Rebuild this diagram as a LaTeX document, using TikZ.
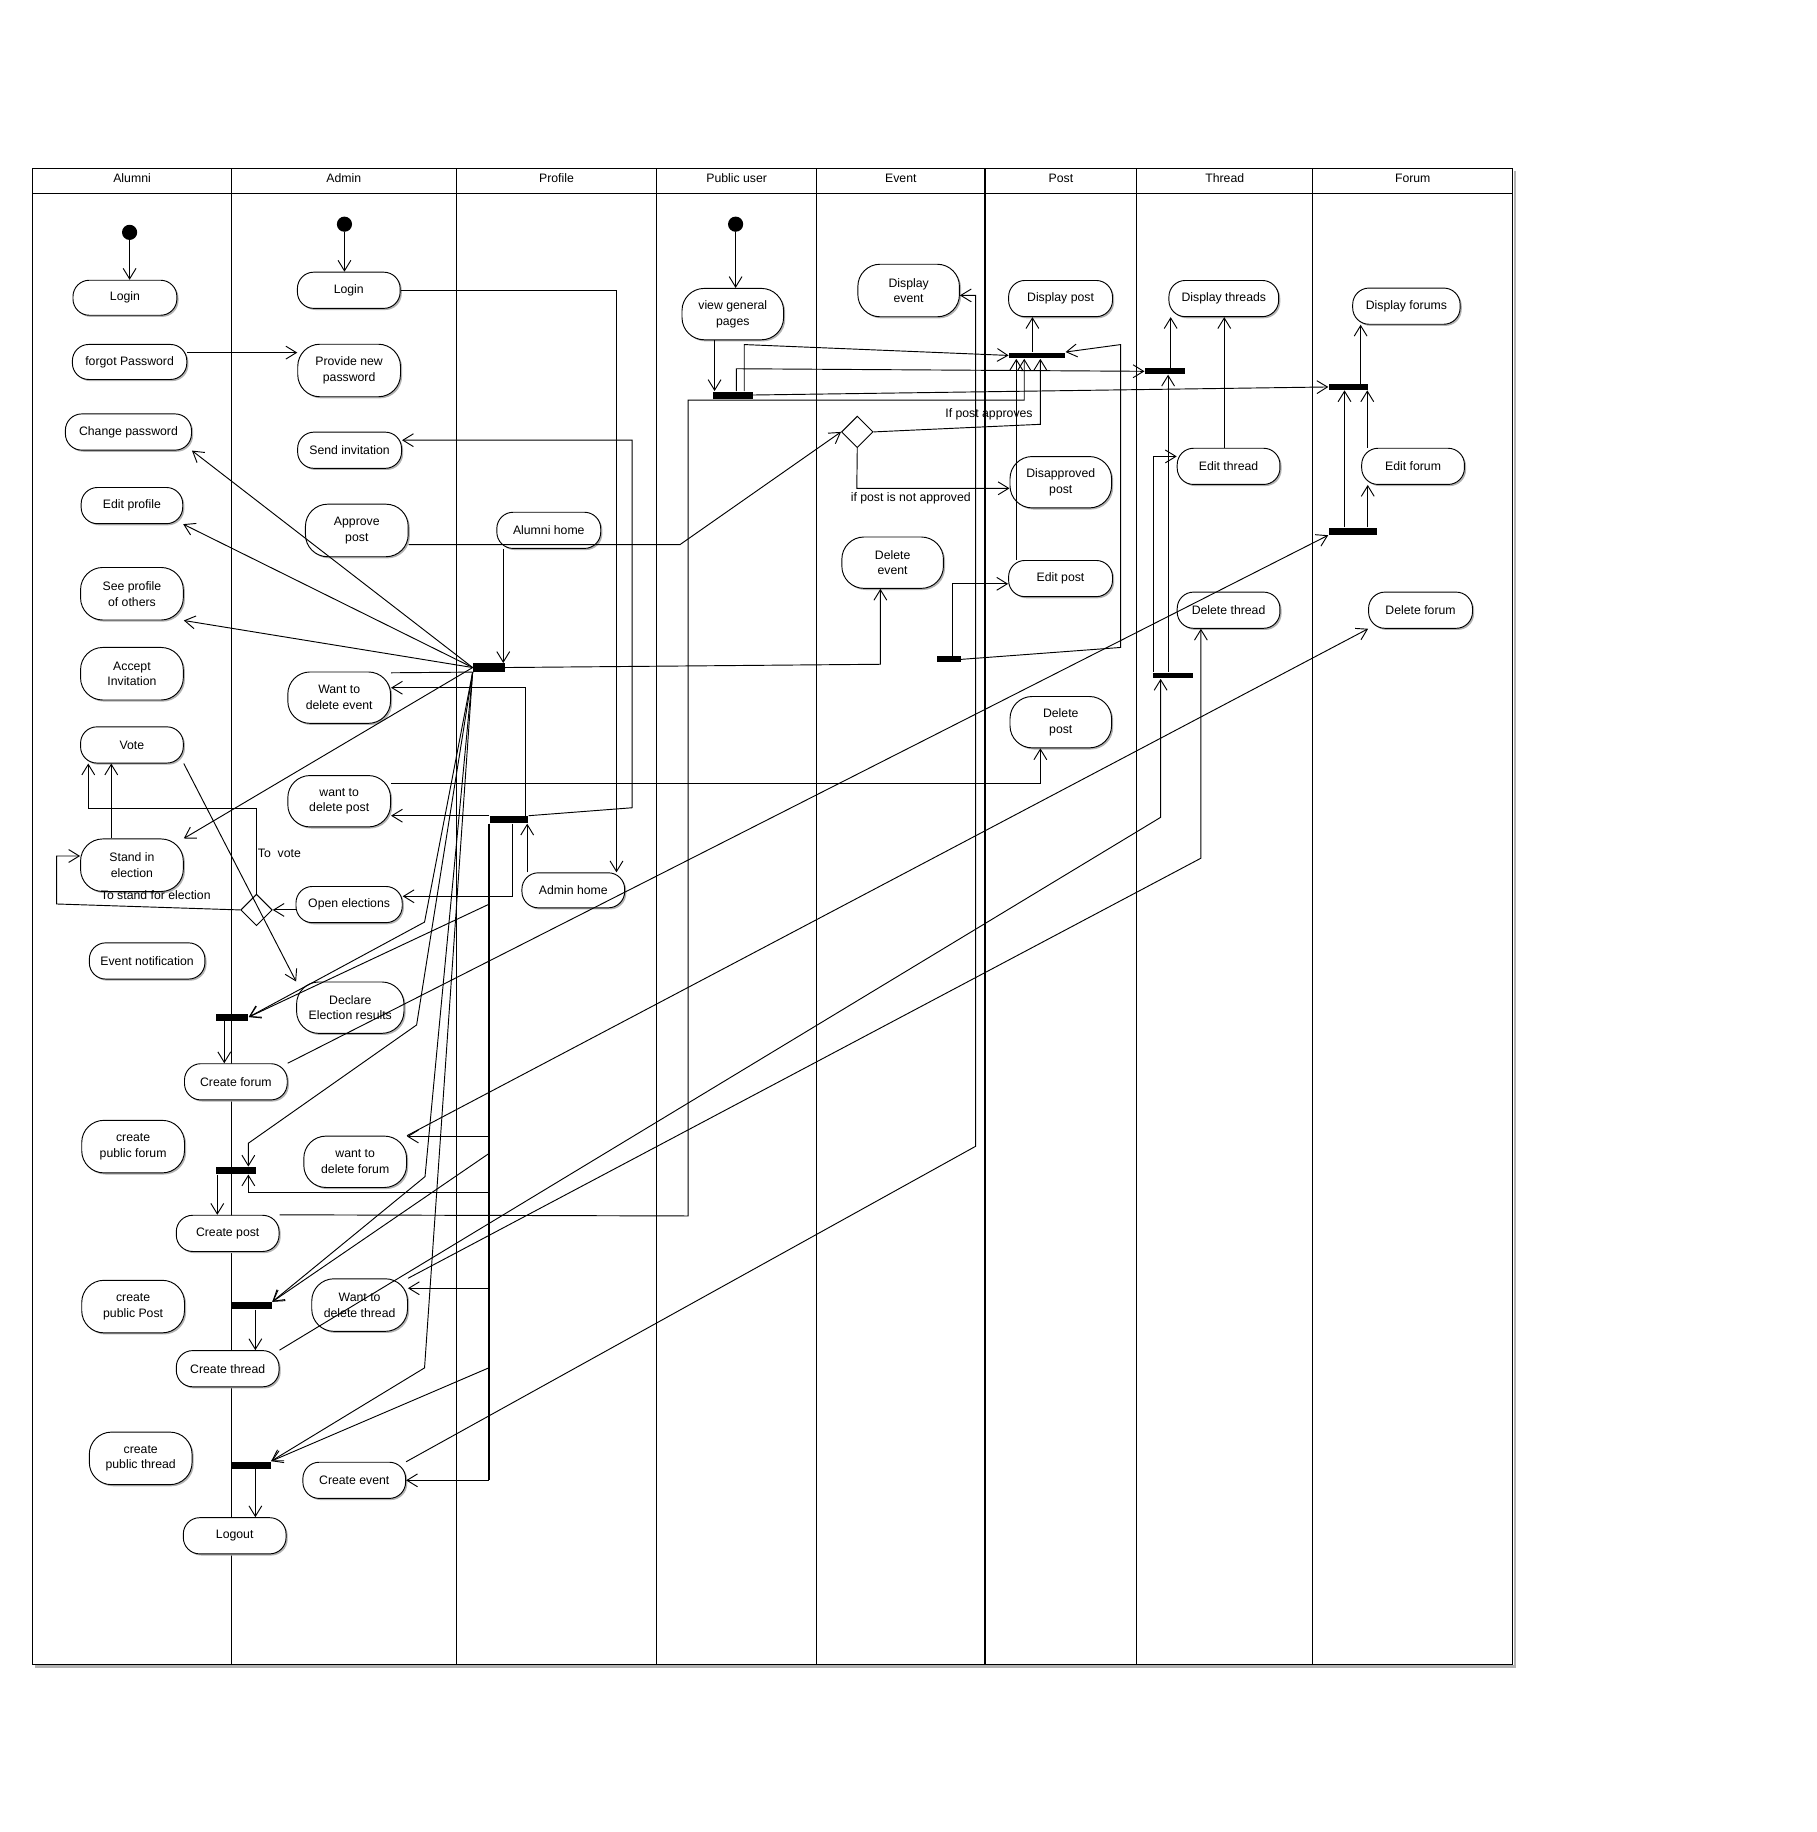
\documentclass[tikz,border=0pt]{standalone}
\usepackage{fontspec}
\setmainfont{Liberation Sans}
\usetikzlibrary{arrows.meta,shapes.geometric,shadows}
\newcommand\actfont{\fontsize{10.5}{13.5}\selectfont}
\begin{document}
\begin{tikzpicture}[x=1pt,y=-1pt,
  line width=0.8pt,
  >={Straight Barb[length=9pt,width=11pt]},
  act/.style={draw, fill=white, rounded corners=14pt, inner sep=0pt, align=center, font=\actfont,
    drop shadow={shadow xshift=1.4pt, shadow yshift=-1.4pt, fill=black!30, opacity=1}},
  acttall/.style={act, rounded corners=19pt},
  forkbar/.style={fill=black, draw=none, inner sep=0pt, minimum height=6pt},
  startdot/.style={circle, fill=black, inner sep=0pt, minimum size=13pt},
  decision/.style={diamond, draw, fill=white, inner sep=0pt, minimum width=27pt, minimum height=27pt},
  lbl/.style={font=\actfont, inner sep=0pt},
  head/.style={font=\actfont, inner sep=0pt, anchor=base},
  flow/.style={->}]
\useasboundingbox (0,0) rectangle (1556,1569);

% swimlanes
\draw[black!30, line width=2pt] (1297.3,146.3) -- (1297.3,1427.1) -- (29.9,1427.1);
\draw[line width=1.1pt, fill=white] (27.9,144.3) rectangle (1295.5,1425.3);
\draw[line width=1.1pt] (27.9,165.7) -- (1295.5,165.7);
\foreach \x in {198.3,390.7,562.5,699.3,843.7,973.5,1124.3}
  \draw[line width=1.1pt] (\x,144.3) -- (\x,1425.3);
\node[head] (hAlumni) at (113.1,156.5) {Alumni};
\node[head] (hAdmin) at (294.5,156.5) {Admin};
\node[head] (hProfile) at (476.6,156.5) {Profile};
\node[head] (hPublic) at (630.9,156.5) {Public user};
\node[head] (hEvent) at (771.5,156.5) {Event};
\node[head] (hPost) at (908.6,156.5) {Post};
\node[head] (hThread) at (1048.9,156.5) {Thread};
\node[head] (hForum) at (1209.9,156.5) {Forum};

% Alumni
\node[startdot] (s1) at (111,199) {};
\node[act, minimum width=89pt, minimum height=30pt] (aLogin) at (107,255) {Login};
\node[act, minimum width=98pt, minimum height=30pt] (aForgot) at (111,310) {forgot Password};
\node[act, minimum width=108pt, minimum height=31pt] (aChange) at (110,370) {Change password};
\node[act, minimum width=87pt, minimum height=31pt] (aEdit) at (113,433) {Edit profile};
\node[acttall, minimum width=88pt, minimum height=45pt] (aSee) at (113,508.5) {See profile\\of others};
\node[acttall, minimum width=88pt, minimum height=45pt] (aAccept) at (113,577) {Accept\\Invitation};
\node[act, minimum width=88pt, minimum height=31pt] (aVote) at (113,638) {Vote};
\node[acttall, minimum width=88pt, minimum height=45pt] (aStand) at (113,741) {Stand in\\election};
\node[act, minimum width=99pt, minimum height=31pt] (aEvent) at (126,823) {Event notification};
\node[acttall, minimum width=88pt, minimum height=45pt] (aCpf) at (114,982) {create\\public forum};
\node[acttall, minimum width=88pt, minimum height=45pt] (aCpp) at (114,1119) {create\\public Post};
\node[acttall, minimum width=88pt, minimum height=45pt] (aCpt) at (120.5,1249) {create\\public thread};

% Admin
\node[startdot] (s2) at (295,192) {};
\node[act, minimum width=88pt, minimum height=31pt] (bLogin) at (298.7,248.6) {Login};
\node[acttall, minimum width=88pt, minimum height=45pt] (bProvide) at (299,317.3) {Provide new\\password};
\node[act, minimum width=89pt, minimum height=31pt] (bSend) at (299.4,385.6) {Send invitation};
\node[acttall, minimum width=88pt, minimum height=45pt] (bApprove) at (305.6,454.3) {Approve\\post};
\node[acttall, minimum width=88pt, minimum height=44pt] (bWde) at (290.5,597.5) {Want to\\delete event};
\node[acttall, minimum width=88pt, minimum height=44pt] (bWdp) at (290.5,686.2) {want to\\delete post};
\node[act, minimum width=91pt, minimum height=31pt] (bOpen) at (299,774.7) {Open elections};
\node[acttall, minimum width=92pt, minimum height=44pt] (bDeclare) at (300,863) {Declare\\Election results};
\node[act, minimum width=88pt, minimum height=31pt] (bCforum) at (202,926.5) {Create forum};
\node[acttall, minimum width=88pt, minimum height=44pt] (bWdf) at (304.2,995) {want to\\delete forum};
\node[act, minimum width=88pt, minimum height=31pt] (bCpost) at (195,1056.3) {Create post};
\node[acttall, minimum width=82pt, minimum height=45pt] (bWdt) at (308,1117.7) {Want to\\delete thread};
\node[act, minimum width=88pt, minimum height=31pt] (bCthread) at (195,1172.2) {Create thread};
\node[act, minimum width=88pt, minimum height=31pt] (bCevent) at (303.4,1267.8) {Create event};
\node[act, minimum width=88pt, minimum height=31pt] (bLogout) at (201,1315.3) {Logout};
\node[decision] (dv) at (219.7,779.3) {};
\node[forkbar, minimum width=28pt] (barCF) at (198.7,871) {};
\node[forkbar, minimum width=34pt] (barCP) at (202,1002.5) {};
\node[forkbar, minimum width=34pt] (barCT) at (215.8,1118.3) {};
\node[forkbar, minimum width=34pt] (barLO) at (214.8,1254.8) {};

% Profile
\node[act, minimum width=89pt, minimum height=31pt] (pAlumni) at (470,454.2) {Alumni home};
\node[act, minimum width=88pt, minimum height=30pt] (pAdmin) at (491,762.5) {Admin home};
\node[forkbar, minimum width=27pt, minimum height=7pt] (F1) at (418.7,571.7) {};
\node[forkbar, minimum width=33pt] (F2) at (435.8,702) {};

% Public user
\node[startdot] (s3) at (630,192) {};
\node[acttall, minimum width=87pt, minimum height=44pt] (uView) at (627.6,269) {view general\\pages};
\node[forkbar, minimum width=34pt] (pBar) at (627.6,338.3) {};

% Event
\node[acttall, minimum width=87pt, minimum height=45pt] (eDisplay) at (778.2,248.8) {Display\\event};
\node[decision] (d2) at (734.2,369.9) {};
\node[acttall, minimum width=87pt, minimum height=44pt] (eDelete) at (764.5,481.9) {Delete\\event};
\node[forkbar, minimum width=20pt, minimum height=5pt] (eBar) at (812.8,564.7) {};

% Post
\node[act, minimum width=89pt, minimum height=31pt] (oDisplay) at (908.3,255.7) {Display post};
\node[forkbar, minimum width=48pt, minimum height=5pt] (oBar) at (888.2,304.4) {};
\node[acttall, minimum width=87pt, minimum height=44pt] (oDisapp) at (908.5,413) {Disapproved\\post};
\node[act, minimum width=89pt, minimum height=31pt] (oEdit) at (908.3,495.5) {Edit post};
\node[acttall, minimum width=87pt, minimum height=44pt] (oDelete) at (908.5,618.5) {Delete\\post};

% Thread
\node[act, minimum width=94pt, minimum height=31pt] (tDisplay) at (1048.1,255.7) {Display threads};
\node[forkbar, minimum width=34pt, minimum height=5pt] (T1) at (997.6,318) {};
\node[act, minimum width=88pt, minimum height=31pt] (tEdit) at (1052.2,399.4) {Edit thread};
\node[act, minimum width=88pt, minimum height=31pt] (tDelete) at (1052.2,522.6) {Delete thread};
\node[forkbar, minimum width=34pt, minimum height=5pt] (T2) at (1004.4,578.5) {};

% Forum
\node[act, minimum width=92pt, minimum height=31pt] (fDisplay) at (1204.5,262.2) {Display forums};
\node[forkbar, minimum width=34pt, minimum height=5pt] (FB1) at (1155,331.4) {};
\node[act, minimum width=88pt, minimum height=31pt] (fEdit) at (1210.2,399.4) {Edit forum};
\node[forkbar, minimum width=41pt, minimum height=6pt] (FB2) at (1158.4,455) {};
\node[act, minimum width=89pt, minimum height=31pt] (fDelete) at (1216.6,522.6) {Delete forum};

% labels
\node[lbl] (lApp) at (847,355) {If post approves};
\node[lbl] (lNot) at (780,427) {if post is not approved};
\node[lbl, anchor=west] (lVote) at (220.5,731) {To\ \ vote};
\node[lbl] (lStand) at (133.4,767) {To stand for election};

% connectors
\draw[flow] (s1) -- (s1 |- aLogin.north);
\draw[flow] (s2) -- (s2 |- bLogin.north);
\draw[flow] (s3) -- (s3 |- uView.north);
\draw[flow] (aForgot.east |- 0,302) -- (bProvide.west |- 0,302);
\draw[flow] (bLogin.east) -| (pAdmin.north -| 528,0);
\draw[flow] (F2.north east) -- (541.3,691.8) -- (541.3,377) -- (bSend.east |- 0,377);
\draw[flow] (pAdmin.north -| 451.5,0) -- (F2.south -| 451.5,0);
\draw[flow] (F2.north -| 450.3,0) -- (450.3,589) -- (bWde.east |- 0,589);
\draw[flow] (F2.north west) -- (bWdp.east |- F2.north west);
\draw[flow] (F2.south -| 438.6,0) -- (438.6,767.6) -- (bOpen.east |- 0,767.6);

% admin trunk
\coordinate (k1) at (418.6,774.5);
\coordinate (k2) at (418.6,973.3);
\coordinate (k3) at (418.6,988);
\coordinate (k4) at (418.6,1021);
\coordinate (k5) at (418.6,1103.3);
\coordinate (k6) at (418.6,1171.5);
\coordinate (k7) at (418.6,1267.8);
\draw[line width=1.5pt] (F2.south -| 418.6,0) -- (k7);
\draw[flow] (k7) -- (bCevent.east);
\draw[flow] (k1) -- (barCF.east);
\draw[flow] (k2) -- (bWdf.east |- k2);
\draw[flow] (k3) -- (barCT.north east);
\draw[flow] (k4) -- (212.7,1021) -- (barCP.south -| 212.7,0);
\draw[flow] (k5) -- (bWdt.east |- k5);
\draw[flow] (k6) -- (barLO.north east);

% F1 fan
\draw[flow] (F1.west) -- (aChange.south east);
\draw[flow] (F1.west) -- (aEdit.south east);
\draw[flow] (F1.west) -- (aSee.south east);
\draw[flow] (F1.west) -- (aStand.north east);
\draw (bWde.east |- 0,576.2) -- (F1.south west);
\draw[flow] (pAlumni.south -| 431,0) -- (F1.north -| 431,0);
\draw[flow] (F1.east) -- (754,568.9) -- (eDelete.south -| 754,0);
\draw[flow] (F1.south west) -- (363.6,789.7) -- (barCF.east);
\draw[flow] (F1.south west) -- (356.8,877.8) -- (212.7,979.1) -- (barCP.north -| 212.7,0);
\draw[flow] (F1.south west) -- (364,1007.7) -- (barCT.north east);
\draw[flow] (F1.south west) -- (363.6,1171.5) -- (barLO.north east);

% post / event
\draw[flow] (bApprove.east |- 0,466.4) -- (582.4,466.4) -- (d2.west);
\draw[flow] (d2.east) -- (891,363.4) -- (oBar.south -| 891,0);
\draw[flow] (d2.south) -- (733.8,418.2) -- (oDisapp.west |- 0,418.2);
\draw[flow] (oEdit.north -| 870.4,0) -- (oBar.south -| 870.4,0);
\draw[flow] (eBar.north -| 815.7,0) -- (815.7,500) -- (oEdit.west |- 0,500);
\draw[flow] (eBar.east) -- (959.8,554.5) -- (959.8,295.1) -- (oBar.north east);
\draw[flow] (uView.south -| 612,0) -- (pBar.north -| 612,0);
\draw[flow] (pBar.north -| 637.4,0) -- (637.4,295.1) -- (oBar.west);
\draw[flow] (pBar.north -| 630.6,0) -- (630.6,315.8) -- (T1.west);
\draw[flow] (pBar.east) -- (FB1.west);
\draw[flow] (bCpost.north east) -- (589.4,1041.4) -- (589.4,342.6) -- (877.2,342.6) -- (oBar.south -| 877.2,0);
\draw[flow] (oBar.north -| 884.2,0) -- (oDisplay.south -| 884.2,0);
\draw[flow] (bCevent.north east) -- (835.6,981.7) -- (835.6,253) -- (eDisplay.east |- 0,253);
\draw[flow] (bWdp.east |- 0,671) -- (891,671) -- (oDelete.south -| 891,0);

% thread / forum
\draw[flow] (T1.north -| 1002.6,0) -- (tDisplay.south -| 1002.6,0);
\draw[flow] (tEdit.north -| 1048.5,0) -- (tDisplay.south -| 1048.5,0);
\draw[flow] (T2.north -| 1000.4,0) -- (T1.south -| 1000.4,0);
\draw[flow] (T2.north -| 988,0) -- (988,390.9) -- (tEdit.west |- 0,390.9);
\draw[flow] (bCthread.north east) -- (994,700) -- (T2.south -| 994,0);
\draw[flow] (bWdt.north east) -- (1028.5,735) -- (tDelete.south -| 1028.5,0);
\draw[flow] (bWdf.north east) -- (fDelete.south west);
\draw[flow] (bCforum.north east) -- (FB2.south west);
\draw[flow] (FB1.north -| 1165.3,0) -- (fDisplay.south -| 1165.3,0);
\draw[flow] (FB2.north -| 1151.5,0) -- (FB1.south -| 1151.5,0);
\draw[flow] (fEdit.north -| 1171,0) -- (FB1.south -| 1171,0);
\draw[flow] (FB2.north -| 1171.4,0) -- (fEdit.south -| 1171.4,0);

% alumni elections
\draw[flow] (aStand.north -| 95.3,0) -- (aVote.south -| 95.3,0);
\draw[flow] (dv.north) -- (219.7,692.2) -- (75.6,692.2) -- (aVote.south -| 75.6,0);
\draw[flow] (dv.west) -- (48.5,774.2) -- (48.5,733.1) -- (aStand.west |- 0,733.1);
\draw[flow] (bOpen.west |- dv.east) -- (dv.east);
\draw[flow] (aVote.south east) -- (bDeclare.north west);

% bars to activities
\draw[flow] (barCF.south -| 192.1,0) -- (bCforum.north -| 192.1,0);
\draw[flow] (barCP.south -| 186.1,0) -- (bCpost.north -| 186.1,0);
\draw[flow] (barCT.south -| 218.7,0) -- (bCthread.north -| 218.7,0);
\draw[flow] (barLO.south -| 218.7,0) -- (bLogout.north -| 218.7,0);
\end{tikzpicture}
\end{document}
